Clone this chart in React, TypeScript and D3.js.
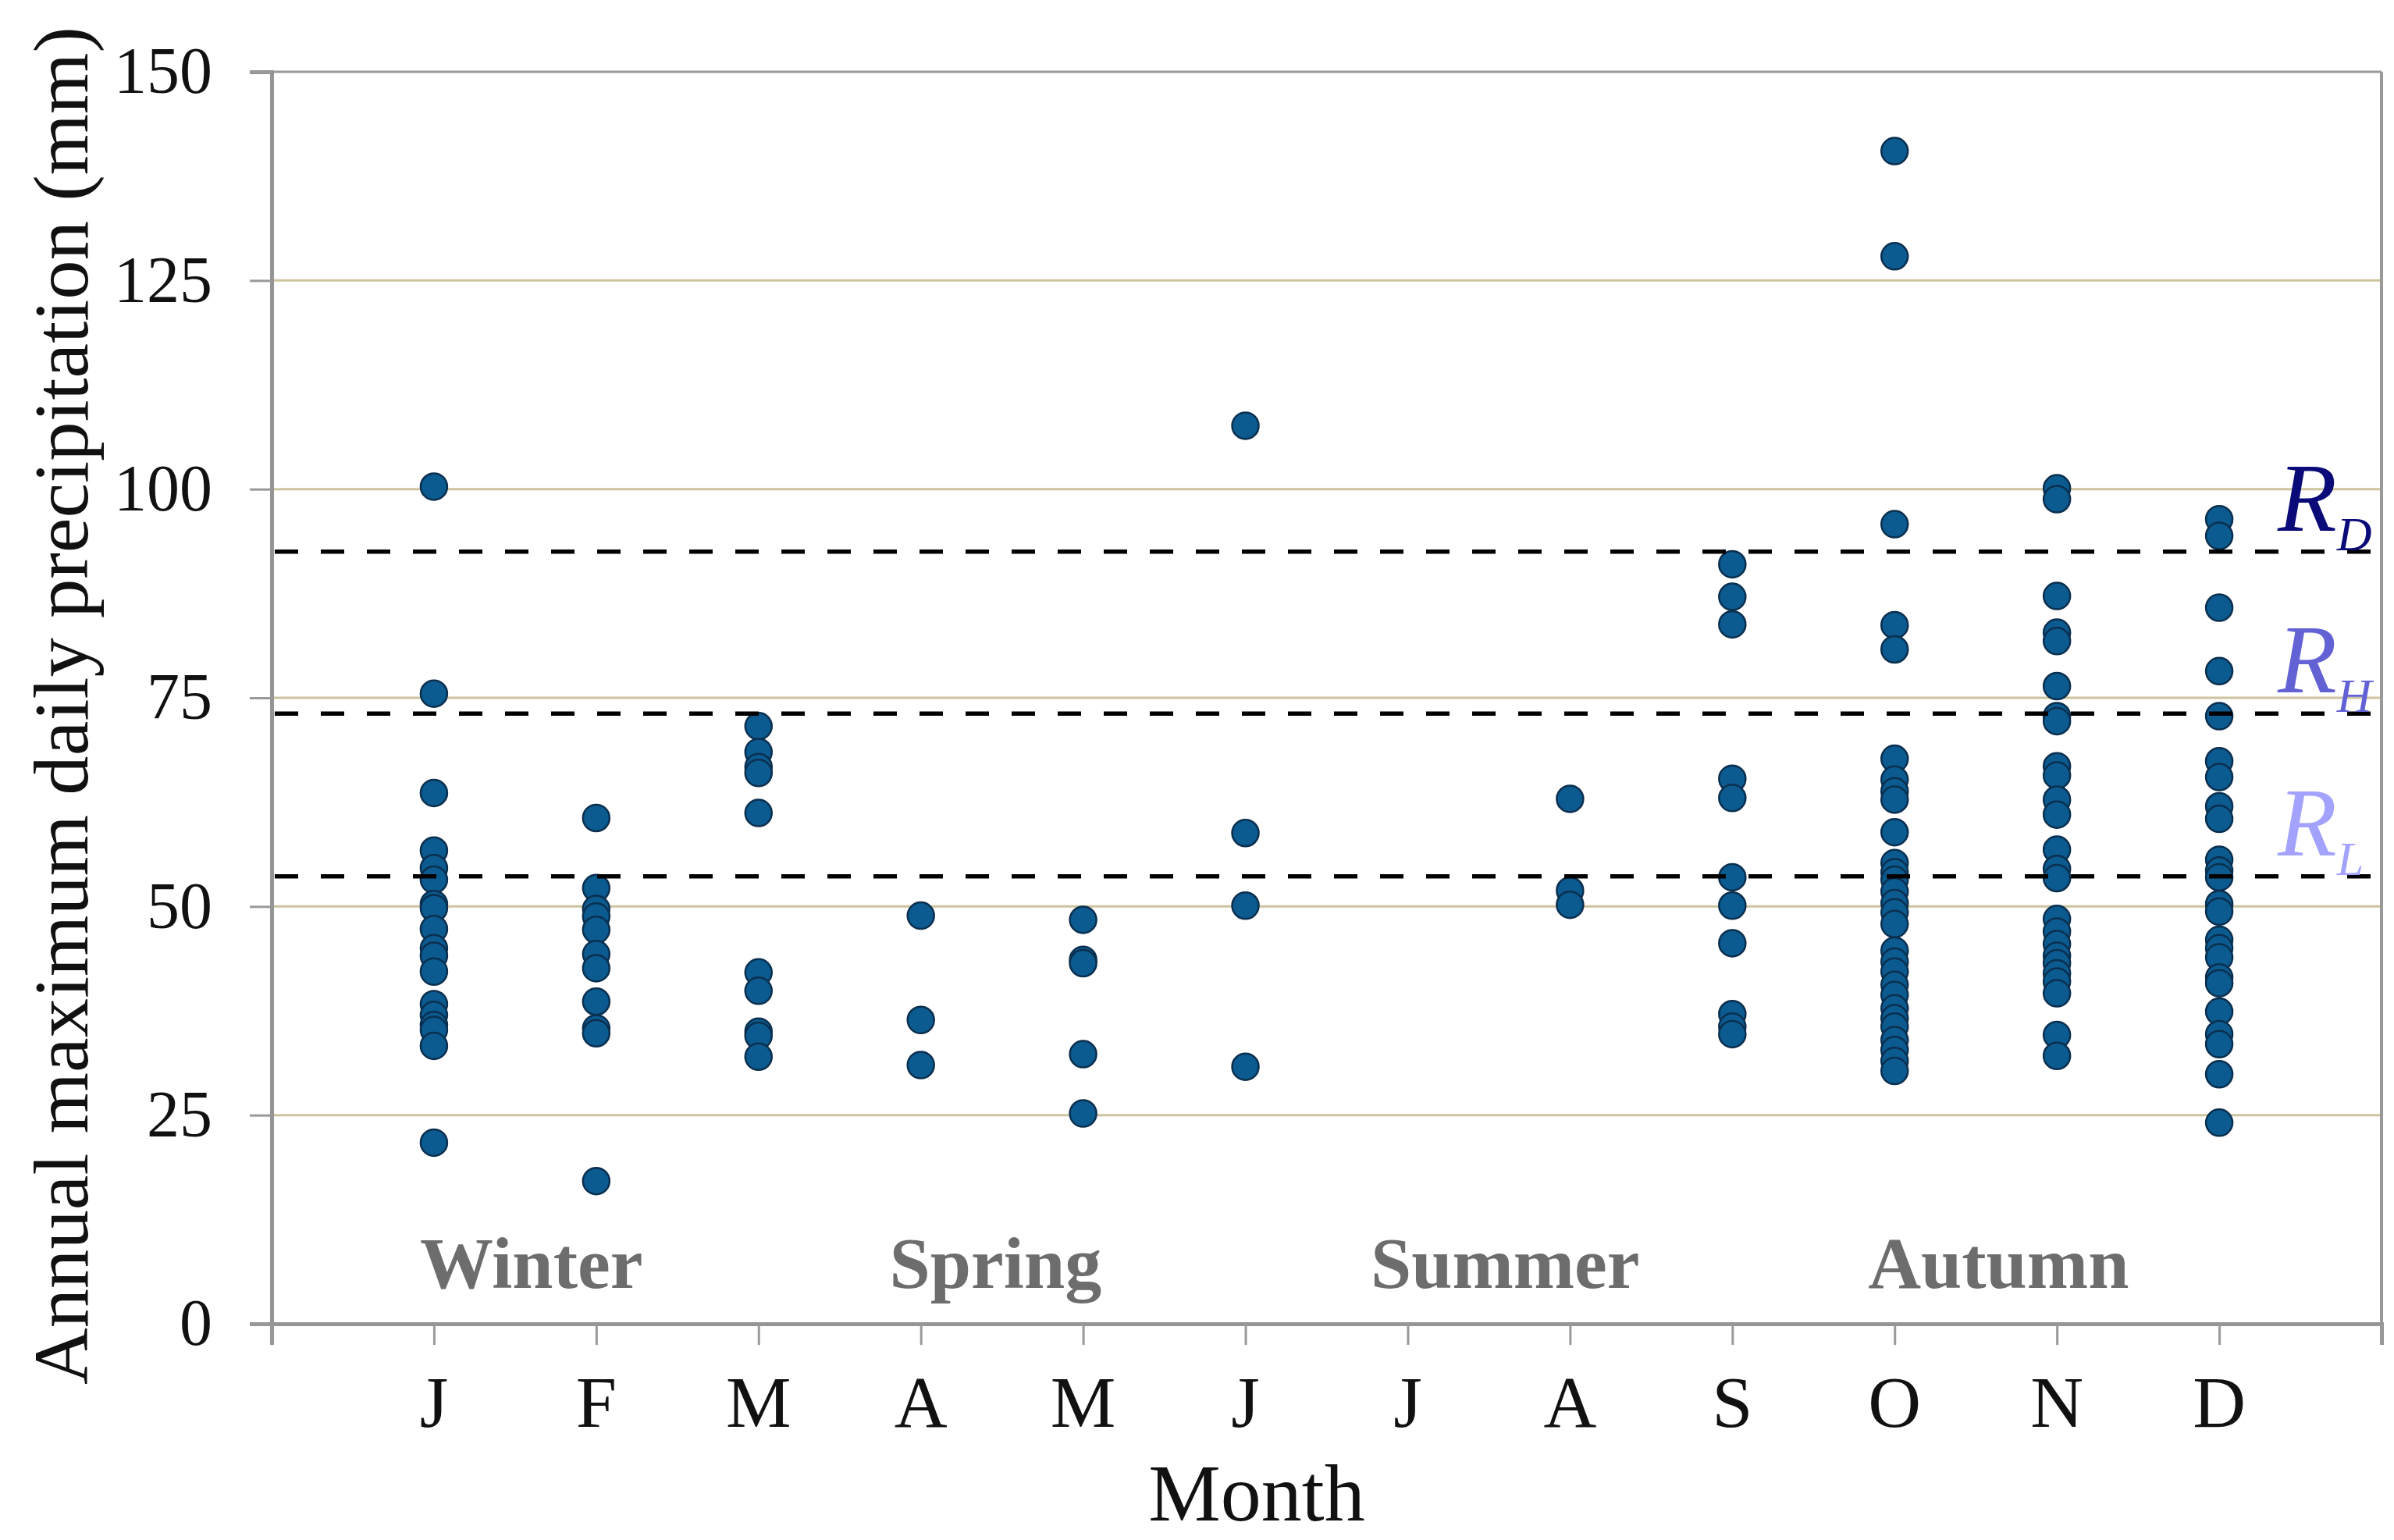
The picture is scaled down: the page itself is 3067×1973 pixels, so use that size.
import React, { useRef, useEffect } from 'react';
import * as d3 from 'd3';

// Month labels along the x axis
const monthLabels = ['J', 'F', 'M', 'A', 'M', 'J', 'J', 'A', 'S', 'O', 'N', 'D'];

// Annual maximum daily precipitation (mm), by month of occurrence
const janValues = [100.3, 75.5, 63.6, 56.7, 54.6, 53.2, 50.3, 49.8, 47.3, 45.0, 44.1, 42.2, 38.3, 37.0, 35.8, 35.2, 33.3, 21.7];
const febValues = [60.6, 52.2, 49.7, 48.8, 47.2, 44.3, 42.6, 38.6, 35.4, 34.8, 17.1];
const marValues = [71.6, 68.5, 66.7, 66.0, 61.2, 42.1, 39.9, 35.0, 34.5, 32.0];
const aprValues = [48.9, 36.4, 31.0];
const mayValues = [48.4, 43.6, 43.2, 32.3, 25.2];
const junValues = [107.6, 58.8, 50.1, 30.8];
const julValues: number[] = [];
const augValues = [62.9, 51.9, 50.2];
const sepValues = [91.0, 87.1, 83.8, 65.3, 63.0, 53.5, 50.1, 45.6, 37.1, 35.6, 34.7];
const octValues = [140.5, 127.9, 95.8, 83.7, 80.8, 67.7, 65.2, 63.8, 62.8, 58.9, 55.2, 54.1, 53.2, 51.8, 50.4, 49.3, 47.9, 44.7, 43.4, 42.2, 40.6, 39.4, 37.8, 36.6, 35.6, 34.0, 32.8, 31.5, 30.3];
const novValues = [100.1, 98.8, 87.2, 82.8, 81.8, 76.4, 72.8, 72.2, 66.8, 65.7, 62.8, 61.0, 56.8, 54.5, 53.4, 48.5, 47.0, 45.5, 44.1, 43.2, 42.0, 41.0, 39.6, 34.6, 32.1];
const decValues = [96.4, 94.4, 85.8, 78.2, 72.8, 67.4, 65.5, 62.0, 60.5, 55.6, 54.3, 53.5, 50.3, 49.4, 46.0, 45.0, 43.9, 41.5, 40.8, 37.4, 34.7, 33.5, 29.9, 24.1];

// Thresholds (dashed lines)
const thresholdValues = [92.5, 73.1, 53.6];
const thresholdSubs = ['D', 'H', 'L'];
const thresholdColors = ['#0a0a78', '#6262d4', '#a3a3ff'];

// Y ticks and grid
const yTicks = [0, 25, 50, 75, 100, 125, 150];
const gridTicks = [25, 50, 75, 100, 125];

// Season labels and their position on the month axis
const seasonNames = ['Winter', 'Spring', 'Summer', 'Autumn'];
const seasonPositions = [1.6, 4.46, 7.6, 10.64];

const App: React.FC = () => {
  const chartRef = useRef<SVGSVGElement | null>(null);

  useEffect(() => {
    if (!chartRef.current) return;
    d3.select(chartRef.current).selectAll('*').remove();

    const width = 3067;
    const height = 1973;
    const margin = { top: 92, right: 16, bottom: 277, left: 348 };
    const serif = '"Liberation Serif", "Times New Roman", serif';

    const svg = d3.select(chartRef.current)
      .attr('width', width)
      .attr('height', height)
      .attr('viewBox', `0 0 ${width} ${height}`);

    svg.append('rect').attr('width', width).attr('height', height).attr('fill', '#fff');

    const x = d3.scaleLinear().domain([0, 13]).range([margin.left, width - margin.right]);
    const y = d3.scaleLinear().domain([0, 150]).range([height - margin.bottom, margin.top]);

    const monthValues = [janValues, febValues, marValues, aprValues, mayValues, junValues,
      julValues, augValues, sepValues, octValues, novValues, decValues];
    const points = monthValues.flatMap((vals, i) => vals.map(v => ({ month: i + 1, value: v })));

    // Gridlines
    svg.append('g')
      .selectAll('line')
      .data(gridTicks)
      .join('line')
      .attr('x1', x(0))
      .attr('x2', x(13))
      .attr('y1', d => y(d))
      .attr('y2', d => y(d))
      .attr('stroke', '#cdc39f')
      .attr('stroke-width', 3);

    // Top and right border
    svg.append('line')
      .attr('x1', x(0)).attr('x2', x(13))
      .attr('y1', y(150)).attr('y2', y(150))
      .attr('stroke', '#999').attr('stroke-width', 3);
    svg.append('line')
      .attr('x1', x(13)).attr('x2', x(13))
      .attr('y1', y(150)).attr('y2', y(0) + 27)
      .attr('stroke', '#999').attr('stroke-width', 4);

    // Y axis
    const yAxis = svg.append('g')
      .attr('transform', `translate(${x(0)},0)`)
      .call(d3.axisLeft(y).tickValues(yTicks).tickSize(28).tickPadding(48).tickFormat(d3.format('d')));
    yAxis.select('.domain').attr('stroke', '#959595').attr('stroke-width', 5);
    yAxis.selectAll('.tick line').attr('stroke', '#999').attr('stroke-width', 3);
    yAxis.selectAll('.tick text')
      .attr('font-family', serif)
      .attr('font-size', 84)
      .attr('fill', '#111');

    // X axis
    const xAxis = svg.append('g')
      .attr('transform', `translate(0,${y(0)})`)
      .call(d3.axisBottom(x).tickValues(d3.range(0, 14)).tickSize(27).tickFormat(() => ''));
    xAxis.select('.domain').attr('stroke', '#959595').attr('stroke-width', 5);
    xAxis.selectAll('.tick line').attr('stroke', '#999').attr('stroke-width', 3);

    svg.append('g')
      .selectAll('text')
      .data(monthLabels)
      .join('text')
      .attr('x', (d, i) => x(i + 1))
      .attr('y', 1828)
      .attr('text-anchor', 'middle')
      .attr('font-family', serif)
      .attr('font-size', 94)
      .attr('fill', '#111')
      .text(d => d);

    // Axis titles
    svg.append('text')
      .attr('x', 1610)
      .attr('y', 1948)
      .attr('text-anchor', 'middle')
      .attr('font-family', serif)
      .attr('font-size', 104)
      .attr('fill', '#111')
      .text('Month');

    svg.append('text')
      .attr('transform', `translate(112,${(y(0) + y(150)) / 2 + 10}) rotate(-90)`)
      .attr('text-anchor', 'middle')
      .attr('font-family', serif)
      .attr('font-size', 100)
      .attr('fill', '#111')
      .attr('textLength', 1740)
      .attr('lengthAdjust', 'spacingAndGlyphs')
      .text('Annual maximum daily precipitation (mm)');

    // Season labels
    svg.append('g')
      .selectAll('text')
      .data(seasonNames)
      .join('text')
      .attr('x', (d, i) => x(seasonPositions[i]))
      .attr('y', 1650)
      .attr('text-anchor', 'middle')
      .attr('font-family', serif)
      .attr('font-weight', 'bold')
      .attr('font-size', 94)
      .attr('fill', '#6d6d6d')
      .text(d => d);

    // Dots
    svg.append('g')
      .selectAll('circle')
      .data(points)
      .join('circle')
      .attr('cx', d => x(d.month))
      .attr('cy', d => y(d.value))
      .attr('r', 17)
      .attr('fill', '#0b5b90')
      .attr('stroke', '#0b2f4f')
      .attr('stroke-width', 2.5);

    // Threshold dashed lines
    svg.append('g')
      .selectAll('line')
      .data(thresholdValues)
      .join('line')
      .attr('x1', x(0) + 4)
      .attr('x2', x(13) - 4)
      .attr('y1', d => y(d))
      .attr('y2', d => y(d))
      .attr('stroke', '#000')
      .attr('stroke-width', 5.5)
      .attr('stroke-dasharray', '30 29');

    // Threshold labels
    const labels = svg.append('g')
      .selectAll('text')
      .data(thresholdValues)
      .join('text')
      .attr('x', 2918)
      .attr('y', d => y(d) - 27)
      .attr('font-family', serif)
      .attr('font-style', 'italic')
      .attr('fill', (d, i) => thresholdColors[i]);
    labels.append('tspan')
      .attr('font-size', 124)
      .text('R');
    labels.append('tspan')
      .attr('font-size', 62)
      .attr('dy', 25)
      .text((d, i) => thresholdSubs[i]);
  }, []);

  return (
    <svg ref={chartRef} style={{ position: 'absolute', top: 0, left: 0, display: 'block' }} />
  );
};

export default App;
